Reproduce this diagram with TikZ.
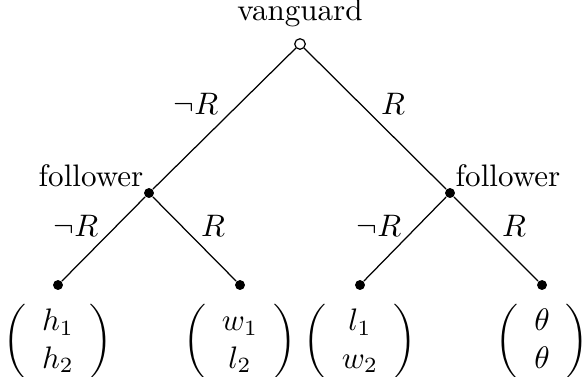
\documentclass[tikz,border=0pt]{standalone}
\usepackage{amsmath}
\begin{document}
\begin{tikzpicture}[x=0.0113cm, y=-0.0113cm,
    open/.style={circle, draw, fill=white, inner sep=0pt, minimum size=3.4pt},
    dot/.style={circle, fill, inner sep=0pt, minimum size=3.2pt}]
    \useasboundingbox (0,0) rectangle (585,376);

    % Vanguard moves first
    \node (root) [open, label={above:vanguard}] at (300,44) {};

    % Follower nodes
    \node (lf) [dot] at (149,193) {}; \node (lflab) at (91,176) {follower};
    \node (rf) [dot] at (450,193) {}; \node (rflab) at (508,176) {follower};
    \draw (root) -- (lf); \node (rootnr) at (196,104) {$\neg R$};
    \draw (root) -- (rf); \node (rootr) at (393,104) {$R$};

    % Terminal nodes
    \node (ll) [dot] at (58,285) {}; \node (lr) [dot] at (240,285) {};
    \node (rl) [dot] at (360,285) {}; \node (rr) [dot] at (542,285) {};
    \draw (lf) -- (ll); \node (lfnr) at (76,226) {$\neg R$};
    \draw (lf) -- (lr); \node (lfr) at (213,226) {$R$};
    \draw (rf) -- (rl); \node (rfnr) at (379,226) {$\neg R$};
    \draw (rf) -- (rr); \node (rfr) at (514,226) {$R$};

    % Payoffs
    \node (pll) at (58,342) {$\left(\begin{array}{c} h_1\\ h_2 \end{array}\right)$};
    \node (plr) at (240,342) {$\left(\begin{array}{c} w_1\\ l_2 \end{array}\right)$};
    \node (prl) at (360,342) {$\left(\begin{array}{c} l_1\\ w_2 \end{array}\right)$};
    \node (prr) at (542,342) {$\left(\begin{array}{c} \theta\\ \theta \end{array}\right)$};
\end{tikzpicture}
\end{document}
